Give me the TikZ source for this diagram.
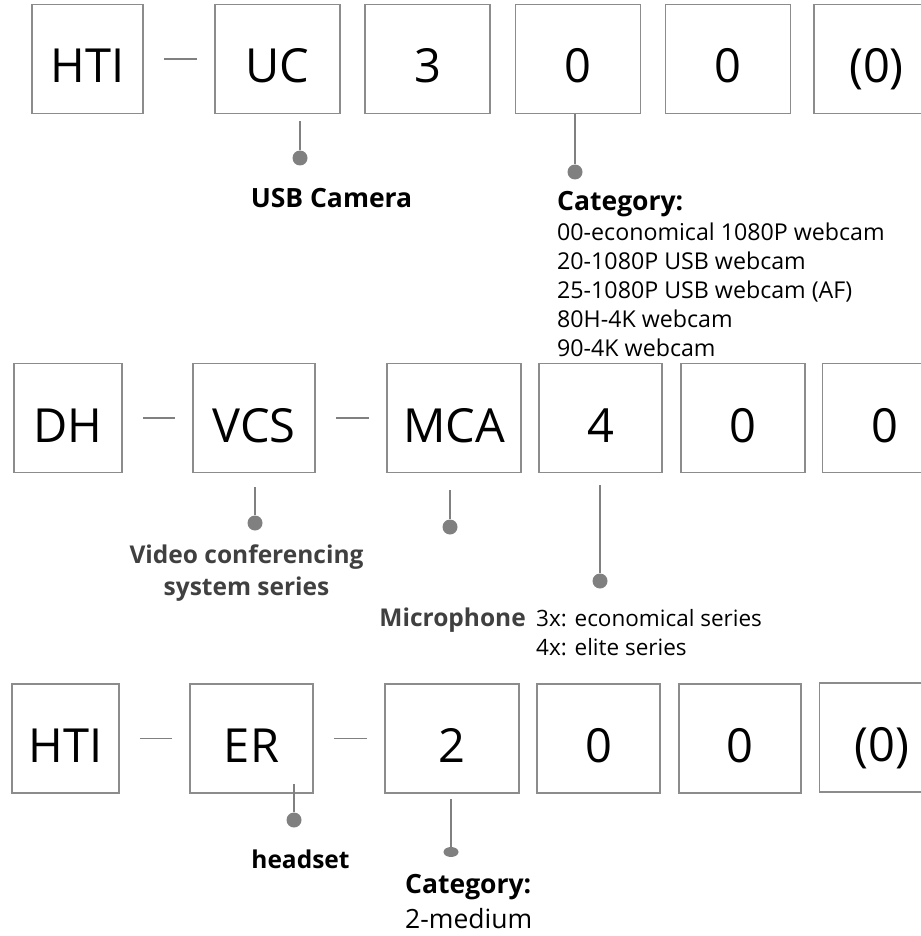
\documentclass[tikz,border=0pt]{standalone}
\usepackage{fontspec}
\setmainfont{Open Sans}
\usepackage{xcolor}
\usepackage{tikz}
\usetikzlibrary{shapes.geometric,positioning}
\definecolor{codegray}{RGB}{140,140,140}
\definecolor{linkgray}{RGB}{128,128,128}
\definecolor{notegray}{RGB}{64,64,64}

\begin{document}
\begin{tikzpicture}[x=1pt, y=-1pt]
    % Define styles
    \tikzset{
        box/.style={rectangle, draw=codegray, line width=1.5pt, minimum width=125pt, minimum height=109pt, inner sep=0pt, text height=48pt, text depth=0pt, font=\fontsize{47}{56}\selectfont},
        joint/.style={draw=linkgray, line width=1.5pt, shorten <=20pt, shorten >=17pt},
        link/.style={draw=linkgray, line width=1.5pt},
        dot/.style={circle, fill=linkgray, inner sep=0pt, minimum size=15pt},
        tag/.style={inner sep=0pt, font=\bfseries\fontsize{24.5}{32}\selectfont},
        bigtag/.style={tag, font=\bfseries\fontsize{26.5}{32}\selectfont},
        note/.style={inner sep=0pt, align=left, font=\fontsize{23.2}{29}\selectfont}
    }
    \useasboundingbox (0,0) rectangle (920,936);

    % Camera code
    \node[box, minimum width=111pt] (hti1) at (87.5,59) {HTI};
    \node[box] (uc) at (277.5,59) {UC};
    \node[box] (three) at (427.5,59) {3};
    \node[box] (cam1) at (578,59) {0};
    \node[box] (cam2) at (728,59) {0};
    \node[box] (cam3) at (876.5,59) {(0)};

    % Conference code
    \node[box, minimum width=108pt] (dh) at (68,418) {DH};
    \node[box, minimum width=122pt] (vcs) at (254,418) {VCS};
    \node[box, minimum width=134pt] (mca) at (454,418) {MCA};
    \node[box, minimum width=123pt] (four) at (600.5,418) {4};
    \node[box, minimum width=124pt] (mic1) at (743,418) {0};
    \node[box] (mic2) at (885,418) {0};

    % Headset code
    \node[box, minimum width=107pt] (hti3) at (65.5,738.5) {HTI};
    \node[box, minimum width=123pt] (er) at (251.5,738.5) {ER};
    \node[box, minimum width=134pt] (two) at (452,738.5) {2};
    \node[box, minimum width=123pt] (set1) at (598.5,738.5) {0};
    \node[box, minimum width=122pt] (set2) at (740,738.5) {0};
    \node[box] (set3) at (882,737.5) {(0)};

    % Dashes
    \draw[joint] (hti1) -- (uc);
    \draw[joint] (dh) -- (vcs);
    \draw[joint] (vcs) -- (mca);
    \draw[joint] (hti3) -- (er);
    \draw[joint] (er) -- (two);

    % Pins
    \node[dot] (ucdot) at (300,158) {};
    \node[dot] (catdot) at (575,172) {};
    \node[dot] (vcsdot) at (255,523) {};
    \node[dot] (mcadot) at (450,527) {};
    \node[dot] (fourdot) at (600,581) {};
    \node[dot] (erdot) at (294,820) {};
    \node[ellipse, fill=linkgray, inner sep=0pt, minimum width=15pt, minimum height=10pt] (twodot) at (451,852) {};
    \draw[link, shorten >=7pt] (ucdot) -- (ucdot |- uc.south);
    \draw[link] (catdot) -- (catdot |- cam1.south);
    \draw[link, shorten >=14pt] (vcsdot) -- (vcsdot |- vcs.south);
    \draw[link, shorten >=17pt] (mcadot) -- (mcadot |- mca.south);
    \draw[link, shorten >=12pt] (fourdot) -- (fourdot |- four.south);
    \draw[link, shorten >=-10pt] (erdot) -- (erdot |- er.south);
    \draw[link, shorten >=5pt] (twodot) -- (twodot |- two.south);

    % Annotations
    \node[bigtag, anchor=base] (usb) at (331.5,207) {USB Camera};
    \node[bigtag, anchor=base west] (cat1) at (557,210) {Category:};
    \node[note, anchor=base west] (catlist) at (557,356) {00-economical 1080P webcam\\20-1080P USB webcam\\25-1080P USB webcam (AF)\\80H-4K webcam\\90-4K webcam};
    \node[tag, text=notegray, align=center, anchor=base] (vcsnote) at (246.5,595) {Video conferencing\\system series};
    \node[tag, text=notegray, anchor=base east] (mic) at (526,626) {Microphone};
    \node[note, font=\fontsize{22.5}{29}\selectfont, anchor=base west] (micnote) at (536,655) {3x: economical series\\4x: elite series};
    \node[tag, anchor=base] (head) at (300.5,868) {headset};
    \node[bigtag, anchor=base west] (cat3) at (405,893) {Category:};
    \node[note, font=\fontsize{26.5}{30}\selectfont, anchor=base west] (med) at (405,928) {2-medium};
\end{tikzpicture}
\end{document}
